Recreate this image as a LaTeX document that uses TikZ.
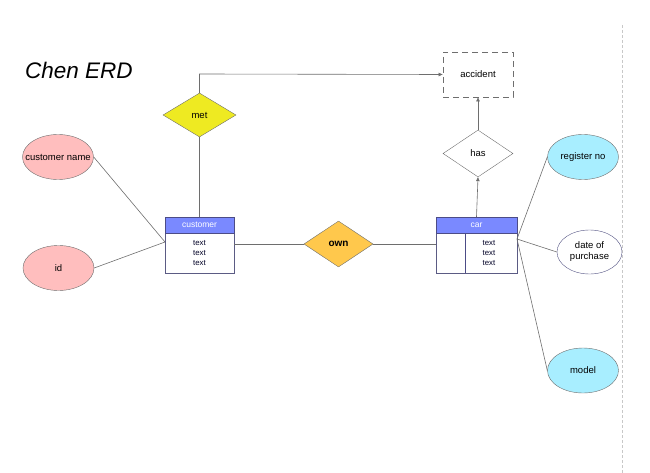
\documentclass[tikz,border=0pt]{standalone}
\usepackage{fontspec}
\setmainfont{Liberation Sans}
\usetikzlibrary{shapes.geometric,arrows.meta}
\definecolor{linegray}{HTML}{6E6E6E}
\definecolor{hdrblue}{HTML}{7A89FF}
\definecolor{tblborder}{HTML}{4C4C86}
\definecolor{metyellow}{HTML}{EEEA22}
\definecolor{ownorange}{HTML}{FFC84C}
\definecolor{attrpink}{HTML}{FFBEBE}
\definecolor{attrcyan}{HTML}{A8EEFF}
\definecolor{sepgray}{HTML}{C8C8C8}
\tikzset{
  lbl/.style={font=\fontsize{9.5}{11}\selectfont},
  rel/.style={diamond, draw=linegray, inner sep=0pt, lbl},
  attr/.style={ellipse, draw=linegray, inner sep=0pt, lbl, align=center,
               minimum width=71pt, minimum height=45pt},
  hdr/.style={rectangle, draw=tblborder, fill=hdrblue, inner sep=0pt,
              minimum height=16pt, text=white,
              font=\fontsize{8.5}{9}\selectfont},
  tbody/.style={rectangle, draw=tblborder!70!gray, fill=white, inner sep=0pt,
                minimum height=40pt},
  rows/.style={align=center, inner sep=0pt, text=black!85!blue,
               font=\fontsize{7.8}{10}\selectfont},
  conn/.style={draw=linegray, line width=0.6pt},
  arr/.style={conn, -{Triangle[length=4pt,width=3.5pt]}}
}
\begin{document}
\begin{tikzpicture}[x=1pt,y=-1pt]
\useasboundingbox (0,0) rectangle (650,473);

% title
\node[font=\fontsize{22.5}{26}\selectfont\itshape] (title) at (79,70) {Chen ERD};

% page edge
\draw[sepgray, dashed, dash pattern=on 3pt off 2pt] (622,25) -- (622,473);

% entity tables
\node[tbody, minimum width=69pt] (cbody) at (199.5,253) {};
\node[hdr, minimum width=69pt] (chdr) at (199.5,225) {customer};
\node[rows] (crows) at (199.5,253) {text\\text\\text};

\node[tbody, minimum width=81pt] (carbody) at (476.5,253) {};
\node[hdr, minimum width=81pt] (carhdr) at (476.5,225) {car};
\draw[tblborder, line width=0.7pt] (465,233) -- (465,273);
\node[rows] (carrows) at (489,253) {text\\text\\text};

% relationships
\node[rel, fill=metyellow, minimum width=73pt, minimum height=44pt] (met) at (199.5,115) {met};
\node[rel, fill=ownorange, minimum width=69pt, minimum height=46pt,
      font=\fontsize{10}{11}\selectfont\bfseries] (own) at (338.5,244) {own};
\node[rel, fill=white, minimum width=70pt, minimum height=47pt] (has) at (478,153.5) {has};

% weak entity
\node[rectangle, draw=linegray, dashed, dash pattern=on 6pt off 4pt, line width=0.8pt,
      minimum width=70pt, minimum height=45pt, lbl] (accident) at (478,74.5) {accident};

% attributes
\node[attr, fill=attrpink, inner xsep=-8pt] (cname) at (58,157) {customer name};
\node[attr, fill=attrpink] (cid) at (58.5,268) {id};
\node[attr, fill=attrcyan] (regno) at (583,157) {register no};
\node[attr, fill=white, draw=tblborder!80!gray, minimum width=65pt, minimum height=44pt] (dop) at (589.5,252) {date of\\purchase};
\node[attr, fill=attrcyan] (model) at (583,370.5) {model};

% connectors
\coordinate (cport) at (165,242);
\coordinate (carport) at (517,239);
\coordinate (metbend) at (199.5,74);

\draw[conn] (cname.east) -- (cport);
\draw[conn] (cid.east) -- (cport);
\draw[conn] (met.south) -- (chdr.north);
\draw[arr] (met.north) -- (metbend) -- (accident.west);
\draw[conn] (cbody.east |- own.west) -- (own.west);
\draw[conn] (own.east) -- (carbody.west |- own.east);
\draw[arr] (carhdr.north) -- (has.south);
\draw[arr] (has.north) -- (accident.south);
\draw[conn] (carport) -- (regno.west);
\draw[conn] (carport) -- (dop.west);
\draw[conn] (carport) -- (model.west);
\end{tikzpicture}
\end{document}
